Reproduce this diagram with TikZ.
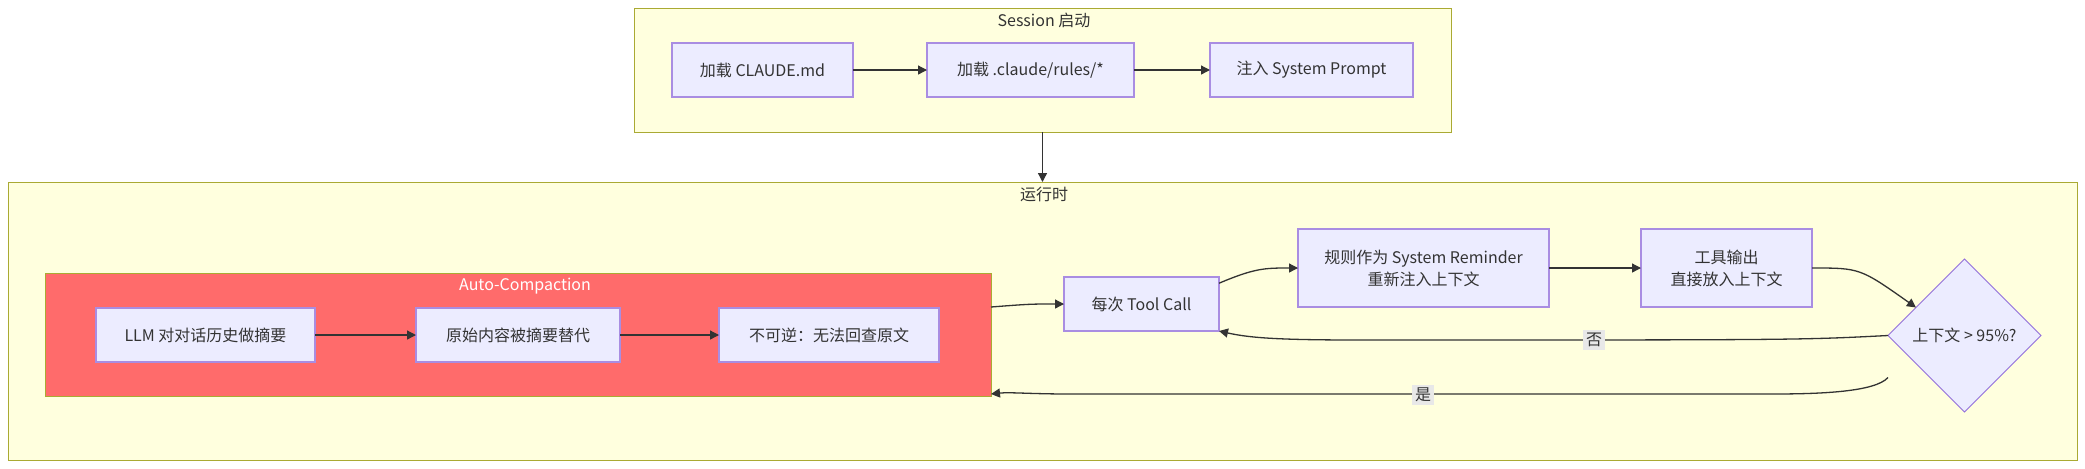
\documentclass[tikz,border=0pt]{standalone}
\usepackage{fontspec}
\setmainfont{Noto Sans CJK SC}
\usetikzlibrary{arrows.meta,shapes.geometric,calc}
\definecolor{nodefill}{HTML}{ECECFF}
\definecolor{nodedraw}{HTML}{9370DB}
\definecolor{clfill}{HTML}{FFFFDE}
\definecolor{cldraw}{HTML}{AAAA33}
\definecolor{redfill}{HTML}{FF6B6B}
\definecolor{edgecol}{HTML}{333333}
\definecolor{lblbg}{HTML}{E8E8E8}
\definecolor{titlecol}{HTML}{333333}
\tikzset{
  cluster/.style={draw=cldraw, fill=clfill, line width=0.5pt, inner sep=0pt, outer sep=0pt},
  redcluster/.style={draw=cldraw, fill=redfill, line width=0.5pt, inner sep=0pt, outer sep=0pt},
  box/.style={draw=nodedraw!80, fill=nodefill, line width=0.6pt, inner sep=0pt, outer sep=0pt, align=center, text=titlecol},
  decision/.style={diamond, draw=nodedraw, fill=nodefill, line width=0.45pt, inner sep=0pt, outer sep=0pt, text=titlecol, minimum width=76.5pt, minimum height=76.5pt},
  arr/.style={draw=edgecol, line width=0.65pt, -{Triangle[length=4.5pt,width=4.5pt]}},
  lbl/.style={fill=lblbg, inner sep=1.5pt, text=titlecol},
  ctitle/.style={text=titlecol, inner sep=0pt}
}
\begin{document}
\begin{tikzpicture}[x=0.5pt,y=-0.5pt,font=\fontsize{8pt}{11pt}\selectfont]
\fill[white] (0,0) rectangle (2085,468);
\useasboundingbox (0,0) rectangle (2085,468);
% clusters
\node[cluster, minimum width=408.5pt, minimum height=62pt] (sess) at (1042.5,70) {};
\node[ctitle] (sesst) at (1044,20) {Session 启动};
\node[cluster, minimum width=1034.5pt, minimum height=139pt] (run) at (1042.5,321) {};
\node[ctitle] (runt) at (1044,194) {运行时};
\node[redcluster, minimum width=473pt, minimum height=61.5pt] (ac) at (518,334.5) {};
\node[ctitle, text=white] (act) at (525,286) {Auto-Compaction};
% session nodes
\node[box, minimum width=90.5pt, minimum height=27pt] (A) at (762.5,70) {加载 CLAUDE.md};
\node[box, minimum width=103.5pt, minimum height=27pt] (B) at (1030.5,70) {加载 .claude/rules/*};
\node[box, minimum width=101.5pt, minimum height=27pt] (C) at (1311.5,70) {注入 System Prompt};
% auto-compaction nodes
\node[box, minimum width=109.5pt, minimum height=27pt] (L1) at (205.5,335) {LLM 对对话历史做摘要};
\node[box, minimum width=102pt, minimum height=27pt] (L2) at (518,335) {原始内容被摘要替代};
\node[box, minimum width=110pt, minimum height=27pt] (L3) at (829,335) {不可逆：无法回查原文};
% runtime nodes
\node[box, minimum width=77.5pt, minimum height=27pt] (T) at (1141.5,304) {每次 Tool Call};
\node[box, minimum width=125.5pt, minimum height=39pt] (R) at (1423.5,268) {规则作为 System Reminder\\重新注入上下文};
\node[box, minimum width=85.5pt, minimum height=39pt] (O) at (1726.5,268) {工具输出\\直接放入上下文};
\node[decision] (D) at (1964.5,335.5) {上下文 > 95\%?};
% edges
\draw[arr] (A) -- (B);
\draw[arr] (B) -- (C);
\draw[arr] (sess.south) -- (sess.south |- run.north);
\draw[arr] (L1) -- (L2);
\draw[arr] (L2) -- (L3);
\coordinate (acout) at (991,307);
\draw[arr] (acout) .. controls (1030,304) .. (T.west);
\draw[arr] (T.15) .. controls (1255,268) and (1265,268) .. (R.west);
\draw[arr] (R) -- (O);
\draw[arr] (O.east) .. controls (1860,268) .. (D.150);
\coordinate (nobend) at (1360,340);
\draw[arr] (D.west) .. controls (1800,340) .. (nobend) .. controls (1280,340) and (1250,338) .. (T.south east);
\node[lbl] (no) at (1594,340) {否};
\coordinate (yesstart) at ($(D.west)+(0,42)$);
\coordinate (yesbend) at (1772,394);
\coordinate (acin) at (991,394);
\draw[arr] (yesstart) .. controls (1875,392) and (1820,394) .. (yesbend) -- (1070,394) .. controls (1030,394) and (1010,392) .. (acin);
\node[lbl] (yes) at (1423,395) {是};
\end{tikzpicture}
\end{document}
